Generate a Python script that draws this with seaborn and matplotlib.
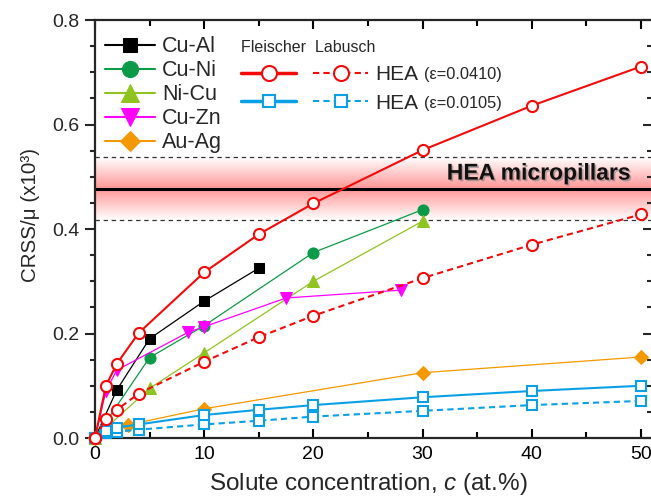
import numpy as np
import pandas as pd
import matplotlib
matplotlib.use("Agg")
import matplotlib.pyplot as plt
import matplotlib.patheffects as pe
from matplotlib.ticker import MultipleLocator
import seaborn as sns

# experimental binary alloys
cual_c = [0, 2, 5, 10, 15]
cual_y = [0, 0.092, 0.19, 0.262, 0.325]
cuni_c = [0, 5, 10, 20, 30]
cuni_y = [0, 0.154, 0.215, 0.355, 0.437]
nicu_c = [0, 5, 10, 20, 30]
nicu_y = [0, 0.095, 0.163, 0.300, 0.415]
cuzn_c = [0, 1, 2, 8.5, 10, 17.5, 28]
cuzn_y = [0, 0.09, 0.13, 0.202, 0.213, 0.268, 0.283]
auag_c = [0, 3, 10, 30, 50]
auag_y = [0, 0.025, 0.056, 0.125, 0.155]

# HEA model predictions
hea_c = [0, 1, 2, 4, 10, 15, 20, 30, 40, 50]
fl_041 = [0, 0.100, 0.142, 0.201, 0.317, 0.390, 0.449, 0.551, 0.636, 0.711]
lab_041 = [0, 0.036, 0.054, 0.085, 0.146, 0.193, 0.234, 0.306, 0.370, 0.428]
fl_0105 = [0, 0.013, 0.020, 0.026, 0.044, 0.054, 0.063, 0.078, 0.090, 0.100]
lab_0105 = [0, 0.009, 0.012, 0.016, 0.026, 0.033, 0.041, 0.052, 0.063, 0.071]

# micropillar measurement
pillar_mean = 0.477
pillar_low = 0.418
pillar_high = 0.538

sns.set_theme(style="ticks")
plt.rcParams['font.family'] = ['Liberation Sans', 'DejaVu Sans']
plt.rcParams['mathtext.fontset'] = 'custom'
plt.rcParams['mathtext.rm'] = 'Liberation Sans'
plt.rcParams['mathtext.it'] = 'Liberation Sans:italic'

fig = plt.figure(figsize=(6.51, 4.97), dpi=100)
ax = fig.add_axes([0.1459, 0.1187, 0.8571, 0.8410])
xmax = 51.1

# pink band, strongest at the mean
n = 200
t = np.linspace(0, 1, n)
prof = np.where(t < 0.5, t / 0.5, (1 - t) / 0.5)
rgba = np.zeros((n, 1, 4))
rgba[:, 0, 0] = 1.0
rgba[:, 0, 1] = 0.45
rgba[:, 0, 2] = 0.45
rgba[:, 0, 3] = prof * 0.75
ax.imshow(rgba, extent=[0, xmax, pillar_low, pillar_high], aspect='auto',
          origin='lower', zorder=0, interpolation='bilinear')
ax.axhline(pillar_mean, color='black', lw=2.2, zorder=1)
ax.axhline(pillar_low, color='#333333', lw=0.9, ls=(0, (3.5, 3)), zorder=1)
ax.axhline(pillar_high, color='#333333', lw=0.9, ls=(0, (3.5, 3)), zorder=1)
ax.text(49.0, 0.507, 'HEA micropillars', ha='right', va='center', fontsize=16.5,
        fontweight='bold', color='#111111', zorder=2,
        path_effects=[pe.withSimplePatchShadow(offset=(1.2, -1.2), shadow_rgbFace='grey', alpha=0.6)])

alloys = [
    ('Cu-Al', cual_c, cual_y, 'black', 's', 7),
    ('Cu-Ni', cuni_c, cuni_y, '#0b9a48', 'o', 8),
    ('Ni-Cu', nicu_c, nicu_y, '#8fc31f', '^', 8.5),
    ('Cu-Zn', cuzn_c, cuzn_y, '#ff00ff', 'v', 8.5),
    ('Au-Ag', auag_c, auag_y, '#f39800', 'D', 7),
]
alloy_handles = []
for name, c, y, col, mk, ms in alloys:
    sns.lineplot(x=c, y=y, ax=ax, color=col, marker=mk, markersize=ms, lw=0.9,
                 markeredgecolor=col, sort=False, clip_on=False, zorder=3)
    alloy_handles.append(ax.lines[-1])

red = '#f50a0a'
blue = '#0aa0e6'
dash = (0, (3, 2))
model = [
    (lab_0105, blue, 's', dash, 6.8),
    (fl_0105, blue, 's', '-', 6.8),
    (lab_041, red, 'o', dash, 8),
    (fl_041, red, 'o', '-', 8),
]
model_lines = {}
for y, col, mk, ls, ms in model:
    sns.lineplot(x=hea_c, y=y, ax=ax, color=col, marker=mk, markersize=ms, lw=1.5,
                 linestyle=ls, markerfacecolor='white', markeredgecolor=col,
                 markeredgewidth=1.5, sort=False, clip_on=False, zorder=4)
    model_lines[(col, str(ls))] = ax.lines[-1]

ax.set_xlim(0, xmax)
ax.set_ylim(0, 0.8)
ax.xaxis.set_major_locator(MultipleLocator(10))
ax.xaxis.set_minor_locator(MultipleLocator(5))
ax.yaxis.set_major_locator(MultipleLocator(0.2))
ax.yaxis.set_minor_locator(MultipleLocator(0.05))
ax.yaxis.set_major_formatter(matplotlib.ticker.FormatStrFormatter('%.1f'))
for s in ax.spines.values():
    s.set_linewidth(1.6)
    s.set_visible(True)
ax.tick_params(axis='x', which='both', direction='in', top=True, bottom=True,
               width=1.5, labelsize=14, pad=6, colors='black')
ax.tick_params(axis='x', which='major', length=6.5)
ax.tick_params(axis='x', which='minor', length=4)
ax.tick_params(axis='y', which='both', direction='out', left=True, right=False,
               width=1.5, labelsize=14, pad=4)
ax.tick_params(axis='y', which='major', length=7)
ax.tick_params(axis='y', which='minor', length=3.6)
sec = ax.secondary_yaxis('right')
sec.yaxis.set_major_locator(MultipleLocator(0.2))
sec.yaxis.set_minor_locator(MultipleLocator(0.05))
sec.tick_params(which='both', direction='in', width=1.5, labelright=False)
sec.tick_params(which='major', length=7)
sec.tick_params(which='minor', length=4)
sec.spines['right'].set_linewidth(1.6)

ax.set_xlabel(r'Solute concentration, $\mathit{c}$ (at.%)', fontsize=17.5)
ax.xaxis.set_label_coords(0.49, -0.079)
ax.set_ylabel('CRSS/μ (x10³)', fontsize=14.8)
ax.yaxis.set_label_coords(-0.0986, 0.533)

leg1 = ax.legend(alloy_handles, [a[0] for a in alloys], loc='upper left',
                 bbox_to_anchor=(0.018, 0.961), frameon=False, fontsize=15.5,
                 borderpad=0, borderaxespad=0, handlelength=2.3, handletextpad=0.36,
                 labelspacing=0.14, markerscale=1.45)
for h in leg1.get_lines():
    h.set_linewidth(1.5)
ax.add_artist(leg1)

h2 = [model_lines[(red, '-')], model_lines[(blue, '-')],
      model_lines[(red, str(dash))], model_lines[(blue, str(dash))]]
leg2 = ax.legend(h2, ['', '', 'HEA', 'HEA'], ncol=2, loc='upper left',
                 bbox_to_anchor=(0.262, 0.952), frameon=False, fontsize=15,
                 title='Fleischer  Labusch', title_fontsize=11.5, alignment='left',
                 borderpad=0, borderaxespad=0, handlelength=2.64, handletextpad=0.34,
                 columnspacing=0.48, labelspacing=0.47, markerscale=1.35)
for h in leg2.get_lines():
    if h.get_linestyle() == '-':
        h.set_linewidth(2.5)
    else:
        h.set_linewidth(1.5)
eps = ['(ε=0.0410)', '(ε=0.0105)']
for txt, e in zip(leg2.get_texts()[2:], eps):
    ax.annotate(e, xy=(1, 0), xycoords=txt, xytext=(4, 1), textcoords='offset points',
                ha='left', va='bottom', fontsize=11.8, zorder=10)

fig.savefig('out.png', dpi=100)
